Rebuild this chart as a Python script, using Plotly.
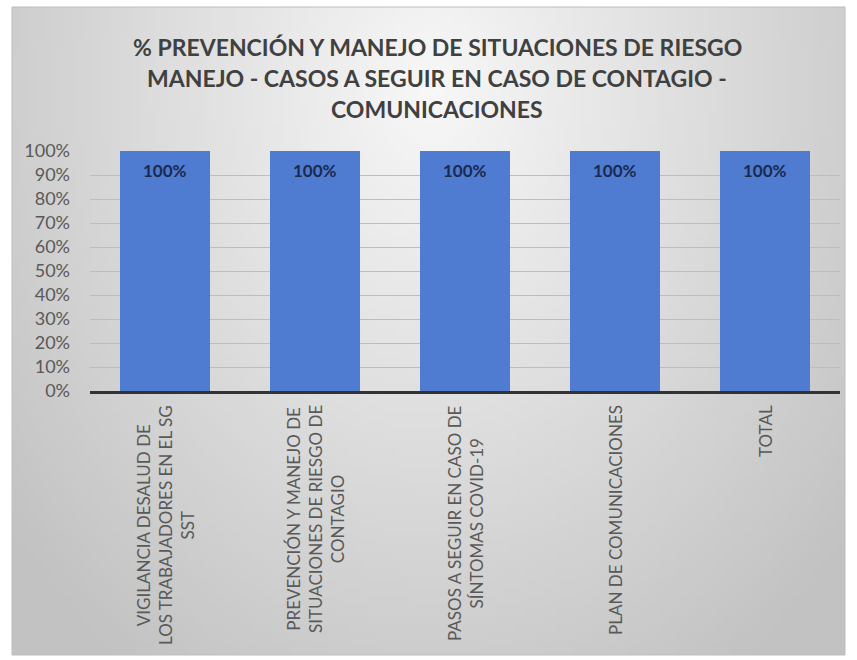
import base64, struct, zlib
import numpy as np
import plotly.graph_objects as go

categories = [
    "VIGILANCIA DESALUD DE LOS TRABAJADORES EN EL SG SST",
    "PREVENCIÓN Y MANEJO DE SITUACIONES DE RIESGO DE CONTAGIO",
    "PASOS A SEGUIR EN CASO DE SÍNTOMAS COVID-19",
    "PLAN DE COMUNICACIONES",
    "TOTAL",
]
category_lines = [
    ["VIGILANCIA DESALUD DE", "LOS TRABAJADORES EN EL SG", "SST"],
    ["PREVENCIÓN Y MANEJO DE", "SITUACIONES DE RIESGO DE", "CONTAGIO"],
    ["PASOS A SEGUIR EN CASO DE", "SÍNTOMAS COVID-19"],
    ["PLAN DE COMUNICACIONES"],
    ["TOTAL"],
]
values = [1.0, 1.0, 1.0, 1.0, 1.0]
value_labels = ["100%", "100%", "100%", "100%", "100%"]
title_lines = [
    "% PREVENCIÓN Y MANEJO DE SITUACIONES DE RIESGO",
    "MANEJO - CASOS A SEGUIR EN CASO DE CONTAGIO -",
    "COMUNICACIONES",
]

W, H = 857, 660
L, R, T, B = 90, 17, 151, 269
pw, ph = W - L - R, H - T - B
FONT = "Lato"


def px_x(x):
    return (x - L) / pw


def px_y(y):
    return (H - B - y) / ph


# radial gradient background image
gw, gh = 120, 92
yy, xx = np.mgrid[0:gh, 0:gw]
cx, cy = gw * 0.5, gh * 0.12
d = np.sqrt(((xx - cx) / (gw * 0.66)) ** 2 + ((yy - cy) / (gh * 1.1)) ** 2)
d = np.clip(d, 0, 1)
v = (248 - d * 54).astype(np.uint8)
raw = b"".join(b"\x00" + bytes(np.stack([row, row, row], axis=1).flatten()) for row in v)


def chunk(t, data):
    c = struct.pack(">I", len(data)) + t + data
    return c + struct.pack(">I", zlib.crc32(t + data) & 0xFFFFFFFF)


png = b"\x89PNG\r\n\x1a\n" + chunk(b"IHDR", struct.pack(">IIBBBBB", gw, gh, 8, 2, 0, 0, 0)) \
    + chunk(b"IDAT", zlib.compress(raw)) + chunk(b"IEND", b"")
src = "data:image/png;base64," + base64.b64encode(png).decode()

fig = go.Figure()
fig.add_trace(go.Bar(
    x=categories, y=values, width=0.6,
    marker=dict(color="#4f7bd0", line=dict(width=0)),
    hoverinfo="x+y",
))

# value labels inside bars near the top
for c, v_, t in zip(categories, values, value_labels):
    fig.add_annotation(x=c, y=v_, xref="x", yref="y", text=t, showarrow=False,
                       yshift=-19, yanchor="middle",
                       font=dict(family=FONT, size=17, color="#1b2a4e", weight="bold"))

# wrapped category labels, rotated, lines centred
for c, lines in zip(categories, category_lines):
    fig.add_annotation(x=c, y=0, xref="x", yref="y", text="<br>".join(lines), showarrow=False,
                       textangle=-90, xanchor="center", yanchor="top", align="center",
                       yshift=-12,
                       font=dict(family=FONT, size=17, color="#595959"))

fx0, fx1 = px_x(12), px_x(845)
fy0, fy1 = px_y(655), px_y(7)
fig.add_layout_image(dict(source=src, xref="paper", yref="paper", x=fx0, y=fy1,
                          sizex=fx1 - fx0, sizey=fy1 - fy0, sizing="stretch",
                          layer="below", xanchor="left", yanchor="top"))
fig.add_shape(type="rect", xref="paper", yref="paper", x0=fx0, x1=fx1, y0=fy0, y1=fy1,
              line=dict(color="#bdbdbd", width=1), layer="above")

for line, ypx in zip(title_lines, [47, 78, 109]):
    fig.add_annotation(text=line, xref="paper", yref="paper", x=px_x(437), y=px_y(ypx),
                       showarrow=False, xanchor="center", yanchor="middle",
                       font=dict(family=FONT, size=23, color="#404040", weight="bold"))

fig.update_layout(
    width=W, height=H,
    margin=dict(l=L, r=R, t=T, b=B),
    paper_bgcolor="white", plot_bgcolor="rgba(0,0,0,0)",
    showlegend=False, bargap=0.4,
    xaxis=dict(showticklabels=False, showgrid=False, showline=True, linecolor="#333333",
               linewidth=3, ticks=""),
    yaxis=dict(range=[0, 1], dtick=0.1, tickformat=".0%", showgrid=True, gridcolor="#bdbdbd",
               gridwidth=1, zeroline=False, ticks="", ticklabelstandoff=19,
               tickfont=dict(family=FONT, size=18, color="#595959")),
)

fig.write_html("out.html", config={"displayModeBar": False}, post_script=(
    "document.body.style.margin='0';"
    "document.documentElement.style.overflow='hidden';"
    "document.body.style.overflow='hidden';"
))
